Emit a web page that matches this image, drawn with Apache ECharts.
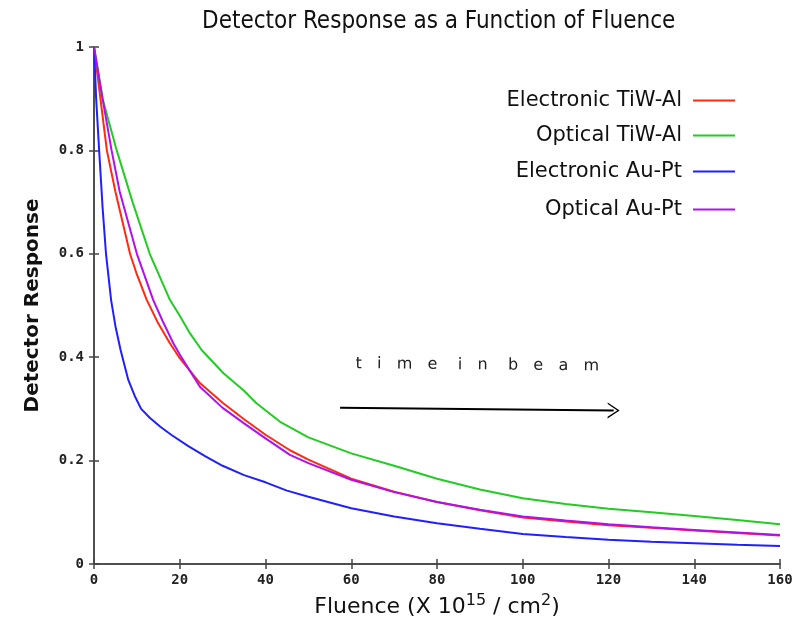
<!DOCTYPE html>
<html>
<head>
<meta charset="utf-8">
<script src="https://cdn.jsdelivr.net/npm/echarts@6/dist/echarts.min.js"></script>
<style>
  html, body { margin: 0; padding: 0; background: #fff; }
  #chart { width: 810px; height: 618px; }
</style>
</head>
<body>
<div id="chart"></div>
<script>
// fluence (x) vs detector response (y)
const electronicTiWAl = [
  [0, 1], [1.5, 0.9], [3, 0.8], [5, 0.72], [8.4, 0.6], [10, 0.56], [12.3, 0.511], [15, 0.465],
  [17.7, 0.427], [20, 0.398], [24.7, 0.35], [30, 0.312], [35, 0.28], [40, 0.25], [45.7, 0.22],
  [50, 0.202], [60, 0.165], [70, 0.14], [80, 0.12], [90, 0.104], [100, 0.09], [110, 0.082],
  [120, 0.075], [130, 0.07], [140, 0.065], [150, 0.06], [160, 0.055]
];
const opticalTiWAl = [
  [0, 1], [2, 0.9], [5.3, 0.8], [9, 0.7], [13, 0.6], [17.7, 0.511], [20, 0.48], [22.4, 0.446],
  [25.1, 0.414], [30.2, 0.369], [35, 0.335], [37.9, 0.311], [43.4, 0.275], [50, 0.245],
  [60, 0.214], [70, 0.19], [80, 0.165], [90, 0.144], [100, 0.127], [110, 0.116], [120, 0.107],
  [130, 0.1], [140, 0.093], [150, 0.085], [160, 0.077]
];
const electronicAuPt = [
  [0, 1], [0.5, 0.9], [1.2, 0.8], [2, 0.69], [2.8, 0.6], [4, 0.51], [5, 0.46], [6.2, 0.414],
  [8, 0.356], [9.5, 0.325], [11, 0.3], [13, 0.283], [15.4, 0.266], [18, 0.25], [22, 0.228],
  [26, 0.208], [30, 0.19], [35, 0.172], [40, 0.158], [45, 0.142], [50, 0.13], [60, 0.108],
  [70, 0.092], [80, 0.079], [90, 0.068], [100, 0.058], [110, 0.052], [120, 0.047], [130, 0.043],
  [140, 0.04], [150, 0.037], [160, 0.035]
];
const opticalAuPt = [
  [0, 1], [2, 0.9], [4.1, 0.8], [6, 0.72], [10, 0.6], [13.8, 0.511], [16, 0.47], [18.5, 0.427],
  [20, 0.405], [24.7, 0.343], [30, 0.302], [35, 0.272], [40, 0.243], [45.7, 0.211], [50, 0.195],
  [60, 0.163], [70, 0.139], [80, 0.12], [90, 0.105], [100, 0.092], [110, 0.084], [120, 0.077],
  [130, 0.071], [140, 0.066], [150, 0.061], [160, 0.056]
];
const seriesNames = ['Electronic TiW-Al', 'Optical TiW-Al', 'Electronic Au-Pt', 'Optical Au-Pt'];
const seriesColors = ['#ff2a10', '#22cc22', '#2020ff', '#b010f0'];
// arrow labelled "time in beam"
const arrowStart = [57.4, 0.302];
const arrowEnd = [121.2, 0.297];

const chart = echarts.init(document.getElementById('chart'));

const tickFont = { fontFamily: 'DejaVu Sans Mono', fontWeight: 'bold', fontSize: 14, color: '#222' };
const axisLine = { lineStyle: { color: '#444', width: 1.5 } };
const axisTick = { inside: true, length: 5, lineStyle: { color: '#444', width: 1.5 } };

const allData = [electronicTiWAl, opticalTiWAl, electronicAuPt, opticalAuPt];
const series = allData.map((d, i) => ({
  name: seriesNames[i],
  type: 'line',
  data: d,
  symbol: 'none',
  smooth: false,
  lineStyle: { color: seriesColors[i], width: 2 },
  itemStyle: { color: seriesColors[i] },
  z: 3
}));
series.push({
  name: 'arrow',
  type: 'line',
  data: [],
  markLine: {
    silent: true,
    symbol: ['none', 'path://M0,10 L5,0 L10,10 L9,10 L5,2 L1,10 Z'],
    symbolSize: [16, 12],
    lineStyle: { color: '#000', width: 2, type: 'solid' },
    label: {
      show: true,
      position: 'insideMiddleTop',
      distance: 36,
      formatter: 't   i   m   e    i   n    b   e   a   m',
      fontFamily: 'DejaVu Sans',
      fontSize: 16,
      color: '#222'
    },
    data: [[{ coord: arrowStart }, { coord: arrowEnd }]]
  }
});

const legendTops = [85, 120, 156, 194];
const legends = seriesNames.map((n, i) => ({
  data: [n],
  orient: 'vertical',
  align: 'right',
  right: 70,
  top: legendTops[i],
  icon: 'rect',
  itemWidth: 42,
  itemHeight: 2,
  selectedMode: false,
  textStyle: { fontFamily: 'DejaVu Sans', fontSize: 21, color: '#111', padding: [0, 6, 0, 0] }
}));

chart.setOption({
  animation: false,
  backgroundColor: '#fff',
  title: {
    text: 'Detector Response as a Function of Fluence',
    left: 197,
    top: 5,
    textStyle: { fontFamily: 'DejaVu Sans Condensed', fontWeight: 'normal', fontSize: 24, color: '#111' }
  },
  legend: legends,
  grid: { left: 94, right: 30, top: 47, bottom: 54, outerBoundsMode: 'none' },
  xAxis: [
    {
      type: 'value', min: 0, max: 160, interval: 20,
      name: 'Fluence (X 10{sup|15} / cm{sup|2})',
      nameLocation: 'middle',
      nameGap: 29,
      nameTextStyle: {
        fontFamily: 'DejaVu Sans', fontSize: 22, color: '#111', lineHeight: 28,
        rich: { sup: { fontFamily: 'DejaVu Sans', fontSize: 16, color: '#111', verticalAlign: 'top', lineHeight: 28 } }
      },
      axisLine, axisTick,
      axisLabel: Object.assign({ margin: 9 }, tickFont),
      splitLine: { show: false }
    },
    {
      type: 'value', min: 0, max: 160, interval: 20, position: 'top',
      axisLine, axisTick, axisLabel: { show: false }, splitLine: { show: false }
    }
  ],
  yAxis: [
    {
      type: 'value', min: 0, max: 1, interval: 0.2,
      name: 'Detector Response',
      nameLocation: 'middle',
      nameGap: 51,
      nameTextStyle: { fontFamily: 'DejaVu Sans', fontWeight: 'bold', fontSize: 20, color: '#111' },
      axisLine, axisTick,
      axisLabel: Object.assign({ margin: 10 }, tickFont),
      splitLine: { show: false }
    },
    {
      type: 'value', min: 0, max: 1, interval: 0.2, position: 'right',
      axisLine, axisTick, axisLabel: { show: false }, splitLine: { show: false }
    }
  ],
  series
});
</script>
</body>
</html>
